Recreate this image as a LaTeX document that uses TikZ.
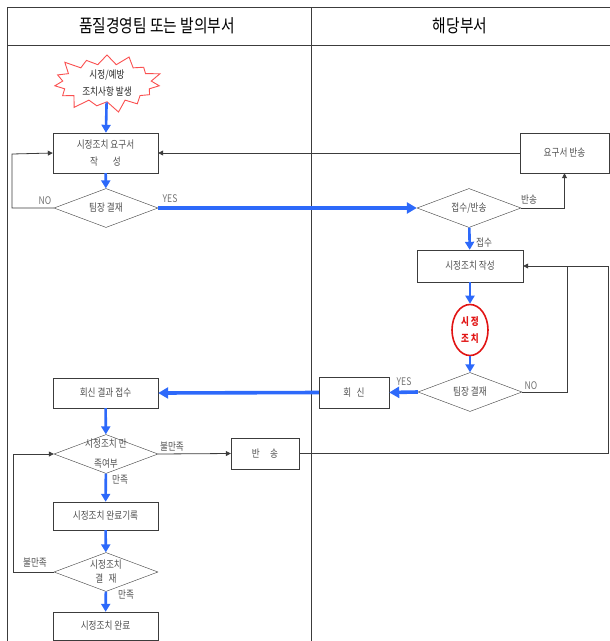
\documentclass[tikz,border=0pt]{standalone}
\usepackage{fontspec}
\setmainfont[FakeStretch=0.82]{Noto Sans CJK KR}
\usetikzlibrary{shapes.geometric,shapes.symbols,arrows.meta}
\definecolor{flowblue}{RGB}{45,105,250}
\definecolor{burstred}{RGB}{250,80,80}
\definecolor{acted}{RGB}{225,20,20}
\definecolor{txtgray}{RGB}{80,80,80}
\definecolor{linegray}{RGB}{60,60,60}
\newcommand{\flowfont}{\fontsize{10.5}{17}\selectfont}
\newcommand{\dtext}[1]{\raisebox{-.25em}[0pt][0pt]{\begin{tabular}{@{}c@{}}#1\end{tabular}}}
\tikzstyle{proc} = [rectangle, draw=linegray, fill=white, text=txtgray, font=\flowfont, align=center, inner sep=0pt, minimum width=105pt, minimum height=30pt]
\tikzstyle{decide} = [diamond, draw=linegray, fill=white, text=txtgray, font=\flowfont, inner sep=0pt, aspect=3, minimum width=104pt, minimum height=39pt]
\tikzstyle{burst} = [starburst, starburst points=15, starburst point height=13pt, draw=burstred, line width=0.9pt, fill=white, text=black!85, font=\flowfont, align=center, inner sep=0pt, minimum width=115pt, minimum height=62pt]
\tikzstyle{act} = [ellipse, draw=acted, line width=1.6pt, text=acted, font=\flowfont\bfseries, align=center, inner sep=0pt, minimum width=36pt, minimum height=51pt]
\tikzstyle{lbl} = [text=txtgray, font=\flowfont, inner sep=0pt]
\tikzstyle{head} = [font=\fontsize{18}{20}\selectfont, inner sep=0pt]
\tikzstyle{flow} = [draw=flowblue, line width=2.6pt, -{Triangle[length=8pt,width=9pt]}]
\tikzstyle{bigflow} = [draw=flowblue, line width=3.6pt, -{Triangle[length=10pt,width=11pt]}]
\tikzstyle{back} = [draw=linegray, line width=0.8pt, -{Triangle[length=5pt,width=5pt]}]
\tikzstyle{plain} = [draw=linegray, line width=0.8pt]

\begin{document}
\begin{tikzpicture}[x=1pt, y=-1pt]
	\useasboundingbox (0,0) rectangle (610,641);
	\draw[plain] (7,641) -- (7,7) -- (610,7);
	\draw[plain] (7,45) -- (610,45);
	\draw[plain] (311,7) -- (311,641);
	\node[head] (headL) at (157,26) {품질경영팀 또는 발의부서};
	\node[head] (headR) at (460,26) {해당부서};

	\node[burst] (start) at (107,83) {시정/예방\\조치사항 발생};
	\node[proc, minimum height=40pt] (req) at (105.5,153) {시정조치 요구서\\작\hspace{1.4em}성};
	\node[decide] (d1) at (106,208) {\dtext{팀장 결재}};
	\node[proc, minimum width=89pt, minimum height=40pt] (rb) at (564.5,153) {요구서 반송};
	\node[decide] (d2) at (469,208) {\dtext{접수/반송}};
	\node[proc, minimum width=106pt, minimum height=32pt] (write) at (470,266) {시정조치 작성};
	\node[act] (fix) at (470,330) {시 정\\조 치};
	\node[decide] (d3) at (470,392) {\dtext{팀장 결재}};
	\node[proc, minimum width=70pt, minimum height=31pt] (reply) at (354,392.5) {회\enspace 신};
	\node[proc] (recv) at (105.5,393) {회신 결과 접수};
	\node[decide] (d4) at (106,454) {\dtext{시정조치 만\\[3pt]족여부}};
	\node[proc, minimum width=68pt, minimum height=31pt] (ret) at (265,453.5) {반\quad 송};
	\node[proc, minimum height=28pt] (rec) at (105.5,516) {시정조치 완료기록};
	\node[decide] (d5) at (106,572) {\dtext{시정조치\\[-3pt]결\enspace 재}};
	\node[proc, minimum height=28pt] (done) at (105.5,626) {시정조치 완료};

	\node[lbl, text=black!55] (noA) at (45,201) {NO};
	\node[lbl, text=black!55] (yesA) at (170,199) {YES};
	\node[lbl] (rbA) at (529,200) {반송};
	\node[lbl] (okA) at (484,243) {접수};
	\node[lbl, text=black!55] (yesB) at (404,382) {YES};
	\node[lbl, text=black!55] (noB) at (531,386) {NO};
	\node[lbl] (badA) at (172,447) {불만족};
	\node[lbl] (goodA) at (120,480) {만족};
	\node[lbl] (badB) at (35,563) {불만족};
	\node[lbl] (goodB) at (126,595) {만족};

	\coordinate (c1) at (12,154);
	\coordinate (c3) at (608,266);
	\coordinate (c4) at (567,266);
	\coordinate (c5) at (13,454);

	\draw[flow] (start) -- (req);
	\draw[flow] (req) -- (d1);
	\draw[bigflow] (d1.east) -- (d2.west);
	\draw[flow] (d2) -- (write);
	\draw[flow] (write) -- (fix);
	\draw[flow] (fix) -- (d3);
	\draw[bigflow] (d3.west) -- (reply.east);
	\draw[bigflow] (reply.west) -- (recv.east);
	\draw[flow] (recv) -- (d4);
	\draw[flow] (d4) -- (rec);
	\draw[flow] (rec) -- (d5);
	\draw[flow] (d5) -- (done);

	\draw[back] (d1.west) -| (c1) -- (req.west);
	\draw[back] (rb.west) -- (req.east);
	\draw[back] (d2.east) -| (rb.south);
	\draw[back] (ret.east) -| (c3) -- (write.east);
	\draw[plain] (d3.east) -| (c4);
	\draw[back] (d4.east) -- (ret.west);
	\draw[back] (d5.west) -| (c5) -- (d4.west);
\end{tikzpicture}
\end{document}
